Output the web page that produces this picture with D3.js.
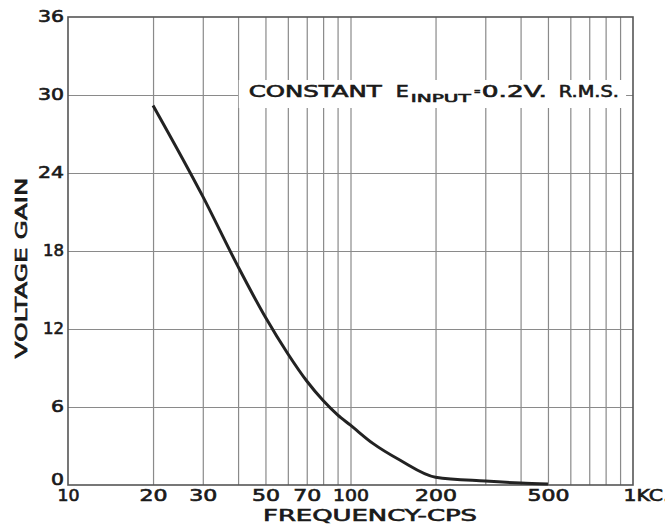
<!DOCTYPE html>
<meta charset="utf-8">
<style>
body {
  margin: 0;
  background-color: #ffffff;
}
svg {
  display: block;
  background-color: #ffffff;
}
text {
  font-family: "DejaVu Sans", sans-serif;
  font-weight: normal;
  fill: #1a1a1a;
  stroke: #1a1a1a;
  stroke-width: 0.6px;
}
.grid line {
  stroke: #8a8a8a;
  stroke-width: 1.2px;
}
.grid path {
  stroke: none;
}
.axis path,
.axis line {
  stroke: none;
}
.axis text {
  font-size: 15px;
}
.frame {
  fill: none;
  stroke: #555;
  stroke-width: 1.6px;
}
.curve {
  fill: none;
  stroke: #222;
  stroke-width: 3px;
}
</style>
<body>
<script src="https://d3js.org/d3.v7.min.js"></script>
<script>
// frequency (cps) and voltage gain
var freqs = [20, 30, 40, 50, 60, 70, 80, 90, 100, 120, 150, 200, 300, 400, 500];
var gains = [29.2, 22.2, 16.8, 12.9, 10.1, 8.0, 6.5, 5.4, 4.6, 3.2, 1.9, 0.6, 0.3, 0.15, 0.08];

// axis ticks
var xTickValues = [10, 20, 30, 50, 70, 100, 200, 500, 1000];
var xTickLabels = ["10", "20", "30", "50", "70", "100", "200", "500", "1KC."];
var xGridValues = [20, 30, 40, 50, 60, 70, 80, 90, 100, 200, 300, 400, 500, 600, 700, 800, 900];
var yTickValues = [0, 6, 12, 18, 24, 30, 36];
var yGridValues = [6, 12, 18, 24, 30];

var margin = {top: 17, right: 32, bottom: 40, left: 68};
var width = 665 - margin.left - margin.right,
    height = 525 - margin.top - margin.bottom;

var svg = d3.select("body").append("svg")
    .attr("width", 665)
    .attr("height", 525)
  .append("g")
    .attr("transform", "translate(" + margin.left + "," + margin.top + ")");

var x = d3.scaleLog().domain([10, 1000]).range([0, width]);
var y = d3.scaleLinear().domain([0, 36]).range([height, 0]);

// grid lines
svg.append("g")
    .attr("class", "grid")
    .attr("transform", "translate(0," + height + ")")
    .call(d3.axisBottom(x).tickValues(xGridValues).tickSize(-height).tickFormat(""));

svg.append("g")
    .attr("class", "grid")
    .call(d3.axisLeft(y).tickValues(yGridValues).tickSize(-width).tickFormat(""));

svg.append("rect")
    .attr("class", "frame")
    .attr("width", width)
    .attr("height", height);

// white box behind the note, it cuts the grid
svg.append("rect")
    .attr("x", x(30) + 36)
    .attr("y", y(30) - 15)
    .attr("width", x(900) - x(30) - 30)
    .attr("height", 28)
    .attr("fill", "#fff");

var note = svg.append("g").attr("transform", "translate(0," + (y(30) + 2) + ")");
note.append("text").attr("x", x(30) + 46).attr("y", 0)
    .style("font-size", "15px").attr("textLength", 133).attr("lengthAdjust", "spacingAndGlyphs")
    .text("CONSTANT");
note.append("text").attr("x", x(30) + 193).attr("y", 0)
    .style("font-size", "15px").attr("textLength", 13).attr("lengthAdjust", "spacingAndGlyphs")
    .text("E");
note.append("text").attr("x", x(30) + 208).attr("y", 5)
    .style("font-size", "11px").attr("textLength", 60).attr("lengthAdjust", "spacingAndGlyphs")
    .text("INPUT");
note.append("text").attr("x", x(30) + 271).attr("y", -2)
    .style("font-size", "11px").attr("textLength", 7).attr("lengthAdjust", "spacingAndGlyphs")
    .text("=");
note.append("text").attr("x", x(30) + 279).attr("y", 0)
    .style("font-size", "15px").attr("textLength", 65).attr("lengthAdjust", "spacingAndGlyphs")
    .text("0.2V.");
note.append("text").attr("x", x(30) + 356).attr("y", 0)
    .style("font-size", "15px").attr("textLength", 60).attr("lengthAdjust", "spacingAndGlyphs")
    .text("R.M.S.");

// gain curve
var line = d3.line()
    .x(function(d, i) { return x(freqs[i]); })
    .y(function(d) { return y(d); })
    .curve(d3.curveMonotoneX);

svg.append("path")
    .datum(gains)
    .attr("class", "curve")
    .attr("d", line);

// axes
var xAxis = svg.append("g")
    .attr("class", "axis")
    .attr("transform", "translate(0," + height + ")")
    .call(d3.axisBottom(x)
            .tickValues(xTickValues)
            .tickSize(0)
            .tickPadding(5)
            .tickFormat(function(d, i) { return xTickLabels[i]; }));

xAxis.selectAll("text")
    .attr("textLength", function(d, i) { return xTickLabels[i] == "1KC." ? 46 : xTickLabels[i].length * 14 - (xTickLabels[i][0] == "1" ? 6 : 0); })
    .attr("lengthAdjust", "spacingAndGlyphs")
    .attr("fill", "#1a1a1a");

xAxis.selectAll(".tick")
    .filter(function(d) { return d == 1000; })
    .select("text")
    .attr("text-anchor", "start")
    .attr("x", -10);

var yAxis = svg.append("g")
    .attr("class", "axis")
    .call(d3.axisLeft(y)
            .tickValues(yTickValues)
            .tickSize(0)
            .tickPadding(4));

yAxis.selectAll("text")
    .attr("textLength", function(d) { return String(d).length * 13 - (String(d)[0] == "1" ? 5 : 0); })
    .attr("lengthAdjust", "spacingAndGlyphs")
    .attr("fill", "#1a1a1a");

yAxis.selectAll(".tick")
    .filter(function(d) { return d == 0; })
    .select("text")
    .attr("dy", "-0.05em");

// axis titles
svg.append("text")
    .attr("transform", "translate(" + (-41) + "," + (height / 2 + 17) + ") rotate(-90)")
    .attr("text-anchor", "middle")
    .style("font-size", "15px")
    .attr("textLength", 181)
    .attr("lengthAdjust", "spacingAndGlyphs")
    .text("VOLTAGE GAIN");

svg.append("text")
    .attr("x", 302)
    .attr("y", height + 36)
    .attr("text-anchor", "middle")
    .style("font-size", "15px")
    .attr("textLength", 214)
    .attr("lengthAdjust", "spacingAndGlyphs")
    .text("FREQUENCY-CPS");
</script>
</body>
